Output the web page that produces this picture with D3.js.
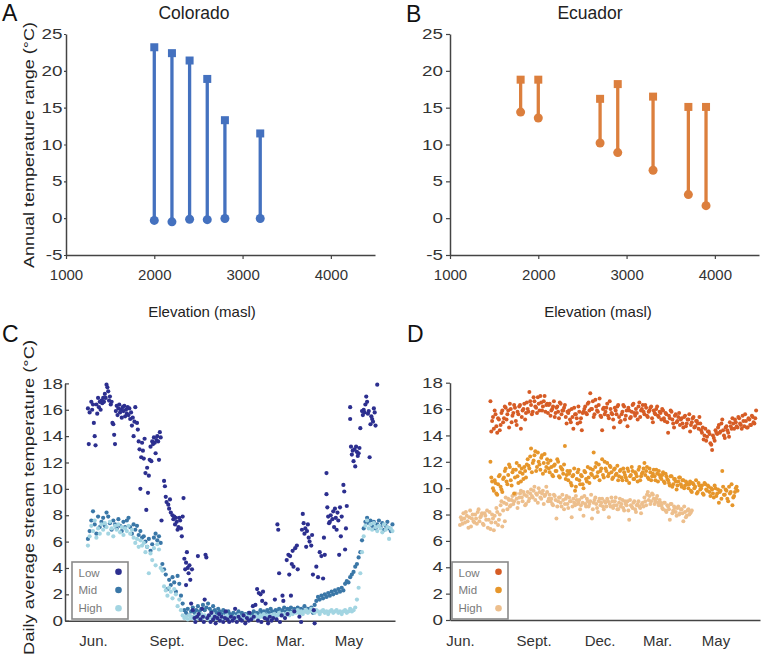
<!DOCTYPE html>
<html><head><meta charset="utf-8">
<script src="https://cdn.jsdelivr.net/npm/d3@7"></script>
<style>body{margin:0;background:#fff}</style>
</head><body>
<script>
// ---------- DATA ----------
const elevTicks = [1000, 2000, 3000, 4000];
const rangeTicks = [-5, 0, 5, 10, 15, 20, 25];

const coloradoElev = [2000, 2200, 2400, 2600, 2800, 3200];
const coloradoMax  = [23.2, 22.4, 21.4, 18.9, 13.3, 11.5];
const coloradoMin  = [-0.3, -0.5, -0.15, -0.2, -0.05, -0.05];

const ecuadorElev = [1800, 2000, 2700, 2900, 3300, 3700, 3900];
const ecuadorMax  = [18.8, 18.8, 16.2, 18.2, 16.5, 15.1, 15.1];
const ecuadorMin  = [14.4, 13.6, 10.2, 8.9, 6.5, 3.2, 1.7];

const streamTicks = [0, 2, 4, 6, 8, 10, 12, 14, 16, 18];
const monthTickDays = [0, 87, 165, 233, 302];
const monthLabels = ["Jun.", "Sept.", "Dec.", "Mar.", "May"];
const seriesNames = ["Low", "Mid", "High"];

// Colorado low-elevation stream: [day since June 1, temperature]
const coloradoLowPts = [
[-6,16.1],[-5,13.4],[-4,15.8],[-2,16.6],[-1,16.0],[0,16.4],[1,15.0],[2,14.0],[3,13.3],[4,16.4],[5,15.7],[6,16.9],[7,16.2],[8,16.6],[9,16.0],[10,16.7],
[11,16.5],[12,16.9],[13,16.6],[14,17.2],[15,16.9],[16,17.9],[17,17.7],[18,17.4],[19,16.7],[20,17.0],[21,16.4],[22,16.6],[23,15.0],[24,14.9],[25,14.1],[26,13.4],
[27,15.9],[28,16.3],[29,15.6],[30,16.1],[31,16.4],[32,15.8],[33,16.0],[34,15.4],[35,16.2],[36,15.9],[37,16.3],[38,15.5],[39,16.0],[40,15.7],[41,16.2],[42,15.6],[43,16.1],[44,15.3],[45,15.8],[46,14.8],[47,15.4],[48,14.0],[49,15.1],[50,16.2],
[52,15.0],[53,14.5],[54,13.6],[55,13.0],[56,10.0],[57,12.4],[58,13.5],[59,12.9],[60,12.3],[61,13.8],[62,11.2],[63,8.4],[64,11.6],[65,9.7],[66,11.0],
[67,12.2],[68,13.2],[69,12.1],[70,13.6],[71,13.4],[72,13.9],[73,13.5],[74,12.7],[75,13.7],[76,14.0],[77,13.6],[78,12.2],[79,14.3],[80,13.9],
[81,7.6],[84,10.6],[85,10.2],[86,9.4],[87,9.0],[89,8.8],[90,8.5],[91,9.2],[92,8.2],[94,8.0],[95,7.7],[96,7.9],[97,7.3],[98,7.8],[99,7.5],[100,6.9],[101,7.1],[102,7.8],[103,7.6],[104,7.0],[105,6.4],[106,7.9],[107,9.3],
[108,4.7],[109,3.9],[110,4.4],[110,2.7],[111,5.2],[112,4.0],[113,3.6],[114,4.2],[115,3.1],[116,1.3],[117,3.9],[118,0.8],
[120,0.2],[121,-0.1],[123,0.3],[124,4.9],[125,0.5],[127,0.1],[129,0.9],[130,0.3],[131,-0.1],[132,1.6],[133,5.0],[134,4.8],[135,0.2],[137,0.4],[139,-0.1],[140,0.6],[142,0.1],[144,0.3],[145,-0.2],[147,0.2],[149,0.5],[150,0.0],[152,0.3],[154,-0.1],[156,0.2],[157,0.7],[159,0.1],[161,-0.1],[163,0.3],[165,0.0],[167,0.2],[168,0.9],[170,-0.1],[172,0.3],[174,0.1],[176,0.0],[178,0.4],[180,-0.2],[182,0.2],[184,0.0],[185,0.6],[187,0.1],[189,1.1],[190,0.3],
[192,1.2],[194,2.4],[195,0.0],[196,2.1],[198,2.0],[199,-0.1],[200,1.5],[201,2.2],[203,0.2],[204,1.3],[206,0.1],[207,-0.2],[209,0.3],[211,0.0],[213,0.2],[215,1.6],[217,0.1],[218,7.3],[219,6.9],[220,3.6],[221,-0.1],[223,0.4],[224,1.9],[225,1.5],[227,0.2],
[229,4.6],[230,0.5],[231,5.0],[232,3.5],[233,4.9],[234,1.9],[235,4.3],[236,5.3],[237,4.1],[238,0.7],[239,5.5],[241,5.7],[242,3.9],[244,0.3],[246,-0.1],
[247,6.9],[248,8.1],[249,7.4],[250,6.6],[251,7.0],[252,5.6],[253,6.8],[254,7.3],[255,6.3],[256,6.0],[258,5.7],[259,6.5],[260,3.5],[261,0.8],[262,-0.2],
[264,4.1],[266,3.3],[268,5.2],[270,4.9],[272,3.2],[273,6.3],[274,5.0],
[276,11.2],[276,9.6],[277,8.6],[278,7.9],[279,7.4],[280,7.5],[281,8.0],[283,7.7],[284,8.3],[285,7.1],[286,8.5],[287,7.8],[288,6.9],[289,8.2],[290,7.6],[291,5.0],[292,8.6],[293,6.4],[294,7.9],[296,10.3],[297,9.8],[298,5.4],[299,7.0],[300,8.7],
[304,16.2],[304,15.3],[305,13.2],[306,12.6],[307,12.9],[308,12.1],[309,13.0],[310,11.7],[311,13.2],[312,12.8],[313,12.5],[314,12.7],[315,13.1],[316,14.6],[318,15.9],[319,15.6],[320,16.0],[321,15.8],[322,16.4],[323,17.0],[324,16.6],[325,15.7],[326,15.9],[327,12.4],[328,14.9],[329,15.5],[330,15.3],[331,15.1],[332,16.1],[333,15.8],[334,14.8],[336,17.9]
];

// Colorado mid / high: one reading every 2 days starting at the given day
const coloradoMidStart = -6;
const coloradoMidVals = [
6.2,6.8,7.6,8.3,7.3,6.6,7.9,7.1,7.5,
7.8,7.2,8.2,7.9,7.4,6.9,7.6,7.3,7.0,7.7,7.2,6.8,7.5,7.1,
7.6,7.8,7.1,6.6,7.3,6.9,7.2,6.5,6.8,6.3,
6.4,6.0,5.6,6.2,5.3,5.8,6.3,6.6,6.1,6.4,5.9,
4.3,3.9,3.5,2.4,3.1,2.7,3.3,2.9,2.2,3.4,2.8,1.9,
1.3,0.8,0.6,0.9,0.4,0.7,1.0,0.6,
0.8,1.1,0.7,0.9,1.2,0.8,1.0,1.3,0.9,0.7,1.1,0.8,0.6,0.9,0.7,0.5,0.8,0.6,0.4,0.7,0.5,
0.4,0.6,0.3,0.5,0.7,0.4,0.6,0.3,0.5,0.4,
0.6,0.3,0.5,0.7,0.4,0.6,0.5,0.8,0.6,0.7,
0.5,0.8,0.6,0.9,0.7,0.5,0.8,0.7,0.9,0.6,
0.8,1.0,0.7,0.9,0.8,1.0,0.7,0.9,0.8,1.0,
0.6,0.9,0.8,1.1,0.7,0.9,0.8,1.0,0.6,
1.2,1.5,1.8,1.6,1.9,1.7,2.0,1.8,2.1,1.9,
2.2,2.0,2.3,2.1,2.4,2.2,2.5,2.3,2.8,3.0,
2.9,3.3,3.5,3.7,4.1,4.3,4.8,5.2,6.1,7.0,
7.5,7.8,7.4,7.6,7.2,7.5,7.0,7.3,7.6,7.1,
7.4,6.9,7.2,7.5,7.0,6.8,7.3
];
const coloradoHighStart = -6;
const coloradoHighVals = [
5.7,6.4,7.2,6.8,7.6,6.3,7.0,6.6,7.3,
6.9,7.4,7.1,6.6,7.5,7.0,6.4,7.2,6.9,7.3,6.7,7.1,6.5,7.0,6.8,7.2,6.6,6.9,
6.3,5.9,6.2,5.6,6.1,5.7,5.9,5.2,
5.6,3.6,5.1,4.6,5.5,4.2,5.8,5.4,4.0,
3.8,2.6,2.3,1.9,2.5,2.2,1.7,2.4,2.0,1.1,1.6,0.8,
0.4,0.2,0.3,0.1,0.4,0.2,0.3,0.1,0.4,0.2,
0.3,0.5,0.2,0.4,0.3,0.1,0.3,0.2,0.4,0.1,
0.3,0.2,0.0,0.3,0.1,0.2,0.4,0.1,0.3,0.2,
0.1,0.3,0.2,0.4,0.1,0.3,0.2,0.4,0.2,0.3,
0.1,0.3,0.2,0.4,0.3,0.2,0.4,0.3,0.5,0.3,
0.4,0.2,0.4,0.3,0.5,0.3,0.4,0.6,0.4,0.5,
0.3,0.5,0.6,0.4,0.6,0.5,0.7,0.6,0.8,0.6,
0.7,0.5,0.7,0.8,0.6,0.7,0.9,0.7,0.6,0.8,
0.7,0.5,0.7,0.8,0.6,0.7,0.5,0.7,0.8,0.6,
0.7,0.8,0.6,0.7,0.5,0.7,0.8,0.6,0.7,0.9,
0.7,0.8,1.0,
1.6,2.5,3.6,5.2,6.4,7.2,7.6,7.0,7.3,6.9,
7.4,7.1,6.8,7.2,7.0,6.7,7.3,6.9,7.1,6.2,
7.0,6.8
];

// Ecuador streams: readings every 2 days (even-day and odd-day sets)
const ecuadorLowStart = 36;
const ecuadorLowVals = [
16.6,15.1,14.5,15.6,14.2,15.2,14.8,15.9,
15.3,16.1,15.6,14.6,16.0,15.5,16.3,15.1,15.8,16.2,14.5,15.9,16.4,15.7,
16.0,17.3,16.3,15.8,16.6,16.1,16.9,15.9,16.5,16.2,17.0,16.3,
15.7,16.4,15.9,16.2,15.4,16.1,15.8,16.5,15.6,15.9,16.3,14.9,
15.7,15.2,16.0,14.5,15.6,15.3,16.2,15.0,14.4,15.8,
16.2,15.6,16.5,17.2,16.0,15.4,16.7,15.9,16.3,15.5,14.4,16.1,
15.8,16.4,15.3,16.0,15.6,14.6,15.9,16.2,15.4,
15.1,15.8,16.2,15.5,14.7,15.9,15.4,16.3,15.7,16.0,15.2,16.5,15.9,16.3,
15.6,16.1,15.4,15.9,16.2,15.0,15.7,16.0,15.5,15.8,15.2,15.9,
15.1,15.6,14.2,15.3,15.8,14.9,15.5,15.0,15.4,14.8,
15.3,14.6,15.5,14.9,15.2,14.3,15.0,15.4,14.7,15.1,14.5,14.9,
14.2,13.7,14.5,13.9,14.3,13.4,12.9,13.8,14.4,
14.1,14.8,14.3,15.2,14.0,14.6,14.4,13.9,14.7,15.3,
14.5,15.0,14.6,15.3,14.8,15.5,14.7,15.1,14.6,15.2,14.8,15.4,14.9,15.9
];
const ecuadorLowStart2 = 37;
const ecuadorLowVals2 = [
14.3,15.4,15.9,14.7,15.3,14.4,15.7,15.0,
16.2,15.2,15.9,16.4,15.0,15.7,16.1,14.8,15.6,16.3,15.4,16.0,15.2,16.5,
15.8,16.6,15.6,16.9,16.2,15.7,16.4,17.0,15.9,16.6,15.8,16.4,
16.3,15.5,16.0,16.6,15.7,16.2,15.3,16.4,15.9,16.1,15.4,15.8,
15.9,15.0,15.4,16.1,15.6,14.9,15.8,15.3,15.7,16.0,
15.7,16.4,15.9,16.0,16.6,15.6,16.2,15.8,16.8,15.4,16.0,15.6,
16.1,15.5,16.6,15.7,15.2,16.1,15.6,16.3,15.0,
15.6,16.3,15.2,15.9,16.1,15.3,15.8,16.4,15.5,15.7,16.2,15.4,16.0,15.8,
16.3,15.5,15.8,16.1,15.3,15.9,15.6,16.2,15.4,15.7,16.0,15.3,
15.7,15.0,15.5,15.9,15.2,14.6,15.6,15.1,15.7,15.2,
14.9,15.4,14.7,15.2,15.6,14.8,15.3,14.6,15.1,14.9,15.4,14.4,
14.6,14.0,13.6,14.3,14.1,13.3,14.0,13.6,14.2,
14.6,14.2,14.9,14.4,13.8,14.7,14.2,15.0,14.5,14.9,
15.2,14.7,15.4,14.9,14.5,15.1,15.6,14.6,15.3,14.8,15.5,15.0,15.3
];
const ecuadorMidStart = 36;
const ecuadorMidVals = [
12.0,10.5,9.8,10.4,9.5,10.9,10.1,9.7,
10.8,11.5,10.3,11.8,10.6,11.2,9.6,11.4,10.9,11.7,10.5,11.1,11.6,10.8,
12.2,11.5,13.0,11.9,12.5,11.3,12.7,11.8,12.3,11.1,12.6,11.6,
11.9,11.2,11.6,10.9,11.8,11.3,12.0,10.8,11.5,11.1,13.2,11.0,
10.6,11.3,10.2,11.0,9.8,10.7,11.4,10.3,10.9,10.0,11.2,10.5,10.8,11.5,
11.0,12.7,11.6,10.9,11.8,11.3,12.2,10.8,11.5,11.9,11.1,11.6,10.7,11.4,11.0,11.7,10.9,
11.4,10.6,11.2,10.8,11.5,10.4,11.0,11.3,10.7,11.1,10.5,11.6,10.9,11.2,
11.9,11.3,10.8,11.5,10.6,11.1,10.9,11.4,10.5,11.0,10.7,11.2,10.4,10.9,
10.6,10.2,10.9,10.3,10.7,9.9,10.5,10.8,10.1,10.6,10.2,10.4,
10.0,10.5,9.7,10.3,10.1,9.6,10.4,9.9,10.2,9.5,10.3,9.8,10.1,9.4,
9.9,9.3,10.0,9.6,8.9,9.8,11.3,9.5,9.9,9.2,10.1,9.7,8.7,9.4,10.0,9.8
];
const ecuadorMidStart2 = 37;
const ecuadorMidVals2 = [
10.8,10.0,10.6,9.6,10.3,11.0,9.9,10.7,
11.3,10.5,11.0,11.6,10.2,11.4,10.8,11.9,10.4,11.2,11.5,10.7,11.3,11.8,
11.7,12.4,11.2,12.1,12.8,11.6,12.0,11.4,12.5,11.9,11.3,12.2,
11.5,12.1,11.0,11.7,11.3,12.2,10.9,11.6,11.4,11.8,10.7,11.3,
11.1,10.4,10.9,11.5,10.1,11.2,10.6,11.0,10.3,11.3,10.7,11.6,10.4,11.1,
11.4,10.8,11.9,11.2,10.6,11.5,11.0,12.0,11.3,10.9,11.7,11.2,10.8,11.5,11.1,10.6,11.3,
10.8,11.5,11.0,10.6,11.3,10.9,11.6,10.7,11.2,10.9,11.4,10.6,11.1,11.5,
11.0,11.6,10.7,11.2,10.9,11.4,10.6,11.1,11.3,10.8,11.0,10.5,11.1,10.7,
10.4,10.9,10.1,10.7,10.5,10.2,10.8,10.3,10.6,10.0,10.5,10.3,
10.3,9.8,10.4,10.0,10.6,9.7,10.2,10.0,9.6,10.4,9.9,10.2,9.7,10.0,
9.6,10.2,9.4,9.9,9.7,9.2,10.1,9.5,9.8,9.0,9.6,10.3,9.3,9.7,10.1
];
const ecuadorHighStart = 0;
const ecuadorHighVals = [
7.2,7.6,8.1,7.4,7.9,7.0,8.3,7.7,7.5,
8.0,7.3,8.4,7.8,8.1,7.2,7.9,8.3,7.6,6.9,8.0,
6.8,7.4,8.2,7.6,8.7,7.1,8.9,9.3,8.4,9.1,
8.7,9.4,9.0,9.6,8.5,9.3,9.8,9.0,9.5,8.8,9.7,9.2,
9.9,9.3,10.1,9.6,8.9,9.7,9.2,9.8,9.4,10.1,9.0,9.5,
9.2,8.7,9.4,7.7,9.0,9.3,8.6,9.1,8.8,9.4,8.5,9.0,7.8,9.2,8.7,9.1,
8.9,8.4,9.3,7.9,8.8,9.2,8.6,9.0,7.7,8.9,9.3,8.5,9.0,8.7,9.2,8.4,
8.9,9.2,7.8,8.6,9.0,8.7,9.3,8.4,8.9,8.6,9.1,8.3,8.8,9.0,7.6,8.7,8.5,9.0,8.2,8.8,8.6,8.1,8.9,
9.3,8.7,9.7,9.4,9.0,9.5,8.8,9.2,8.9,9.1,
8.7,8.4,8.9,8.2,8.6,7.6,8.8,8.3,8.5,7.9,8.6,8.1,8.4,7.5,8.2,7.9,8.4,8.1,8.3
];
const ecuadorHighStart2 = 1;
const ecuadorHighVals2 = [
7.8,7.3,7.7,8.2,7.5,7.8,7.1,8.0,7.4,
7.7,8.2,7.5,7.9,7.3,8.1,7.6,7.0,8.2,7.4,7.7,
7.9,8.5,7.2,8.0,9.0,8.3,7.5,8.8,9.2,8.6,
9.1,8.8,9.5,9.2,8.9,9.6,9.3,9.7,8.7,9.4,9.0,9.6,
9.4,9.8,9.1,9.5,10.0,9.3,9.6,8.8,9.5,9.7,9.2,9.0,
8.8,9.5,9.1,8.6,9.3,8.9,9.5,8.4,9.2,8.8,9.3,9.0,8.6,8.9,9.4,8.8,
9.1,8.7,8.9,9.4,8.6,9.0,8.8,9.5,8.4,9.1,8.8,8.2,9.2,8.9,8.6,9.0,
8.6,9.0,8.8,9.3,8.5,9.0,8.7,8.4,9.2,8.8,8.5,9.0,8.7,8.3,9.1,8.6,8.9,8.4,8.7,9.0,8.5,8.8,8.6,
9.0,9.5,9.1,8.8,9.6,9.2,9.0,9.4,8.7,8.9,
8.5,8.9,8.3,8.7,8.4,8.8,8.1,8.6,8.2,8.5,8.0,8.4,8.1,8.6,7.8,8.3,8.0,8.2
];

// ---------- DRAWING ----------
const FONT = '"Liberation Sans", Arial, Helvetica, sans-serif';
const AXIS = "#444";
const YSTRETCH = 1.3;
const svg = d3.select("body").append("svg")
  .attr("width", 762).attr("height", 658)
  .style("font-family", FONT);

function styleAxis(g, fs) {
  g.attr("font-family", FONT);
  g.select(".domain").attr("stroke", AXIS).attr("stroke-width", 1.5);
  g.selectAll(".tick line").attr("stroke", AXIS).attr("stroke-width", 1.2);
  g.selectAll(".tick text").attr("fill", "#333").attr("font-size", fs);
}
function stretchY(g) {
  g.selectAll(".tick text").each(function () {
    const t = d3.select(this);
    const x = +t.attr("x");
    t.attr("x", x / YSTRETCH).attr("transform", `scale(${YSTRETCH},1)`);
  });
}
function addText(t, x, y, fs, opts = {}) {
  const el = svg.append("text").attr("x", x).attr("y", y)
    .attr("font-size", fs).attr("fill", opts.fill || "#222")
    .attr("text-anchor", opts.anchor || "start").text(t);
  if (opts.rotate) el.attr("transform", `rotate(-90,${x},${y})`);
  if (opts.len) el.attr("textLength", opts.len).attr("lengthAdjust", "spacingAndGlyphs");
  return el;
}
const plain = d => String(d);

function lollipopPanel(cfg) {
  const x = d3.scaleLinear().domain([1000, 4500]).range([cfg.x0, cfg.x0 + 309]);
  const y = d3.scaleLinear().domain([-5, 25]).range([255, 34]);
  const g = svg.append("g");
  const ya = g.append("g").attr("transform", `translate(${cfg.x0},0)`)
    .call(d3.axisLeft(y).tickValues(rangeTicks).tickFormat(plain).tickSize(cfg.yTick).tickSizeOuter(0).tickPadding(cfg.yPad));
  styleAxis(ya, 14.5); stretchY(ya);
  const xa = g.append("g").attr("transform", `translate(0,${y(-5)})`)
    .call(d3.axisBottom(x).tickValues(elevTicks).tickFormat(plain).tickSize(4).tickSizeOuter(0).tickPadding(10.5));
  styleAxis(xa, 15);
  const data = cfg.elev.map((e, i) => ({ e, hi: cfg.max[i], lo: cfg.min[i] }));
  g.selectAll(null).data(data).join("line")
    .attr("x1", d => x(d.e)).attr("x2", d => x(d.e))
    .attr("y1", d => y(d.lo)).attr("y2", d => y(d.hi))
    .attr("stroke", cfg.color).attr("stroke-width", 3.3);
  g.selectAll(null).data(data).join("rect")
    .attr("x", d => x(d.e) - 4).attr("y", d => y(d.hi) - 4)
    .attr("width", 8).attr("height", 8).attr("fill", cfg.color);
  g.selectAll(null).data(data).join("circle")
    .attr("cx", d => x(d.e)).attr("cy", d => y(d.lo)).attr("r", 4.5).attr("fill", cfg.color);
  addText(cfg.title, cfg.titleX, 18.5, 17.5, { anchor: "middle" });
  addText("Elevation (masl)", cfg.xLabelX, 317, 15, { anchor: "middle" });
}

lollipopPanel({ x0: 66, elev: coloradoElev, max: coloradoMax, min: coloradoMin,
  color: "#4471bf", title: "Colorado", titleX: 194, xLabelX: 202, yTick: 2, yPad: 1.5 });
lollipopPanel({ x0: 450, elev: ecuadorElev, max: ecuadorMax, min: ecuadorMin,
  color: "#dc7f3d", title: "Ecuador", titleX: 590, xLabelX: 598, yTick: 4, yPad: 3 });

addText("Annual temperature range (°C)", 34, 145, 15, { anchor: "middle", rotate: true, len: 246 });

function expand(start, vals) { return vals.map((v, i) => [start + i * 2, v]); }

function streamPanel(cfg) {
  const x = d3.scaleLinear().domain(cfg.dayDomain).range([cfg.x0, cfg.x1]);
  const y = d3.scaleLinear().domain([0, 18]).range([cfg.yb, cfg.yb - 237.3]);
  const g = svg.append("g");
  const ya = g.append("g").attr("transform", `translate(${cfg.x0},0)`)
    .call(d3.axisLeft(y).tickValues(streamTicks).tickFormat(plain).tickSize(cfg.yTick).tickSizeOuter(0).tickPadding(cfg.yPad));
  styleAxis(ya, 14.5); stretchY(ya);
  const xa = g.append("g").attr("transform", `translate(0,${cfg.yb})`)
    .call(d3.axisBottom(x).tickValues(monthTickDays).tickFormat((d, i) => monthLabels[i])
      .tickSize(0).tickSizeOuter(0).tickPadding(cfg.xPad));
  styleAxis(xa, 15);
  cfg.order.forEach(k => {
    const s = cfg.series[k];
    g.append("g").selectAll(null).data(s.pts).join("circle")
      .attr("cx", d => x(d[0])).attr("cy", d => y(d[1]))
      .attr("r", cfg.r).attr("fill", s.color);
  });
  // legend
  const lg = g.append("g");
  lg.append("rect").attr("x", cfg.legX).attr("y", 562).attr("width", 56).attr("height", 57)
    .attr("fill", "#fff").attr("stroke", "#8a8a8a").attr("stroke-width", 1.6);
  seriesNames.forEach((n, i) => {
    lg.append("text").attr("x", cfg.legX + 6.5).attr("y", 576.5 + i * 17.6)
      .attr("font-size", 11.5).attr("fill", "#7a7a7a").text(n);
    lg.append("circle").attr("cx", cfg.legX + 46.5).attr("cy", 571.8 + i * 18.2)
      .attr("r", 3.3).attr("fill", cfg.series[i].color);
  });
}

streamPanel({
  x0: 65, x1: 395, dayDomain: [-33.1, 357], yb: 620.7, yTick: -4, yPad: 2, xPad: 14.5, legX: 72, r: 2.1,
  order: [1, 2, 0],
  series: [
    { color: "#2c2f8f", pts: coloradoLowPts },
    { color: "#3a77a7", pts: expand(coloradoMidStart, coloradoMidVals) },
    { color: "#a3d5e2", pts: expand(coloradoHighStart, coloradoHighVals) }
  ]
});
streamPanel({
  x0: 450, x1: 760, dayDomain: [-11.8, 354.6], yb: 620, yTick: 4, yPad: 3, xPad: 15, legX: 452, r: 2.0,
  order: [2, 1, 0],
  series: [
    { color: "#d65c25", pts: expand(ecuadorLowStart, ecuadorLowVals).concat(expand(ecuadorLowStart2, ecuadorLowVals2)) },
    { color: "#e6962b", pts: expand(ecuadorMidStart, ecuadorMidVals).concat(expand(ecuadorMidStart2, ecuadorMidVals2)) },
    { color: "#edbf8d", pts: expand(ecuadorHighStart, ecuadorHighVals).concat(expand(ecuadorHighStart2, ecuadorHighVals2)) }
  ]
});

addText("Daily average stream temperature (°C)", 34, 497.5, 15, { anchor: "middle", rotate: true, len: 315 });

// panel letters
addText("A", 2, 20.5, 23, { fill: "#111" });
addText("B", 406, 21.5, 23, { fill: "#111" });
addText("C", 2, 341.5, 23, { fill: "#111" });
addText("D", 407, 341.5, 23, { fill: "#111" });
</script>
</body></html>
